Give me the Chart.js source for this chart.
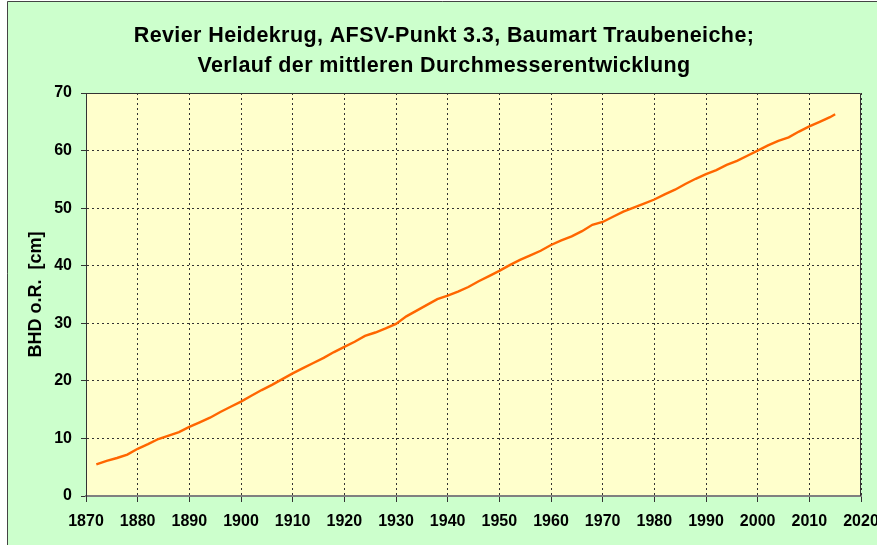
<!DOCTYPE html>
<html>
<head>
<meta charset="utf-8">
<script src="https://cdn.jsdelivr.net/npm/chart.js@4/dist/chart.umd.min.js"></script>
<style>
  html, body { margin: 0; padding: 0; background: #ffffff; }
  #wrap { width: 877px; height: 545px; }
</style>
</head>
<body>
<div id="wrap"><canvas id="chart" width="877" height="545"></canvas></div>
<script>
// Data
const titleLines = ['Revier Heidekrug, AFSV-Punkt 3.3, Baumart Traubeneiche;', 'Verlauf der mittleren Durchmesserentwicklung'];
const yTitle = 'BHD o.R.  [cm]';

const years = [1872, 1874, 1876, 1878, 1880, 1882, 1884, 1886, 1888, 1890,
    1892, 1894, 1896, 1898, 1900, 1902, 1904, 1906, 1908, 1910,
    1912, 1914, 1916, 1918, 1920, 1922, 1924, 1926, 1928, 1930,
    1932, 1934, 1936, 1938, 1940, 1942, 1944, 1946, 1948, 1950,
    1952, 1954, 1956, 1958, 1960, 1962, 1964, 1966, 1968, 1970,
    1972, 1974, 1976, 1978, 1980, 1982, 1984, 1986, 1988, 1990,
    1992, 1994, 1996, 1998, 2000, 2002, 2004, 2006, 2008, 2010,
    2012, 2014, 2015];
const bhd = [5.5, 6.1, 6.6, 7.2, 8.2, 9.0, 9.9, 10.5, 11.1, 12.0,
    12.8, 13.6, 14.6, 15.5, 16.4, 17.4, 18.4, 19.3, 20.3, 21.3,
    22.2, 23.1, 24.0, 25.0, 25.9, 26.8, 27.8, 28.4, 29.1, 29.9,
    31.2, 32.2, 33.2, 34.2, 34.8, 35.5, 36.3, 37.3, 38.2, 39.1,
    40.1, 41.0, 41.8, 42.6, 43.6, 44.4, 45.1, 46.0, 47.1, 47.6,
    48.5, 49.4, 50.1, 50.8, 51.5, 52.4, 53.2, 54.2, 55.1, 55.9,
    56.6, 57.5, 58.2, 59.1, 60.0, 60.9, 61.7, 62.3, 63.3, 64.2,
    65.0, 65.8, 66.3];

const xMin = 1870, xMax = 2020, xStep = 10;
const yMin = 0, yMax = 70, yStep = 10;

const FONT = '"Liberation Sans", Arial, sans-serif';

// Background, frame and title
const backdrop = {
    id: 'backdrop',
    beforeDraw(chart) {
        const ctx = chart.ctx;
        const a = chart.chartArea;
        ctx.save();
        ctx.fillStyle = '#ffffff';
        ctx.fillRect(0, 0, chart.width, chart.height);
        ctx.fillStyle = '#ccffcc';
        ctx.fillRect(7, 1, chart.width - 7, chart.height - 1);
        ctx.strokeStyle = '#444444';
        ctx.lineWidth = 1;
        ctx.beginPath();
        ctx.moveTo(7.5, chart.height);
        ctx.lineTo(7.5, 1.5);
        ctx.lineTo(chart.width, 1.5);
        ctx.stroke();
        ctx.fillStyle = '#ffffcc';
        ctx.fillRect(a.left, a.top, a.right - a.left, a.bottom - a.top);

        ctx.fillStyle = '#000000';
        ctx.font = 'bold 21.5px ' + FONT;
        ctx.letterSpacing = '0.4px';
        ctx.textAlign = 'center';
        ctx.textBaseline = 'alphabetic';
        ctx.fillText(titleLines[0], 444, 42);
        ctx.fillText(titleLines[1], 444, 72);
        ctx.restore();
    },
    beforeDatasetsDraw(chart) {
        const ctx = chart.ctx;
        const a = chart.chartArea;
        ctx.save();
        ctx.strokeStyle = '#333333';
        ctx.lineWidth = 1;
        ctx.beginPath();
        ctx.moveTo(a.left, a.top + 0.5);
        ctx.lineTo(a.right - 0.5, a.top + 0.5);
        ctx.lineTo(a.right - 0.5, a.bottom);
        ctx.stroke();
        ctx.restore();
    }
};

const ctx = document.getElementById('chart');
new Chart(ctx, {
    type: 'line',
    data: {
        datasets: [{
            label: 'BHD',
            data: years.map((y, i) => ({ x: y, y: bhd[i] })),
            borderColor: '#ff6600',
            borderWidth: 2.4,
            pointRadius: 0,
            tension: 0,
            fill: false
        }]
    },
    options: {
        responsive: false,
        animation: false,
        layout: { padding: { left: 0, right: 16, top: 93, bottom: 0 } },
        plugins: {
            legend: { display: false },
            title: { display: false },
            tooltip: { enabled: false }
        },
        scales: {
            x: {
                type: 'linear',
                min: xMin,
                max: xMax,
                afterFit(scale) {
                    scale.height = 49;
                    scale.paddingLeft = 0;
                    scale.paddingRight = 0;
                },
                ticks: {
                    stepSize: xStep,
                    padding: 10,
                    maxRotation: 0,
                    autoSkip: false,
                    color: '#000000',
                    font: { family: FONT, size: 16, weight: 'bold' },
                    callback: v => String(v)
                },
                grid: {
                    color: '#333333',
                    lineWidth: 1,
                    tickLength: 6,
                    tickColor: '#333333',
                    tickBorderDash: []
                },
                border: { display: true, color: '#808080', width: 2, dash: [2, 3] }
            },
            y: {
                min: yMin,
                max: yMax,
                afterFit(scale) {
                    scale.width = 86;
                    scale.paddingTop = 0;
                    scale.paddingBottom = 0;
                },
                ticks: {
                    stepSize: yStep,
                    padding: 9,
                    color: '#000000',
                    font: { family: FONT, size: 16, weight: 'bold' }
                },
                grid: {
                    color: '#333333',
                    lineWidth: 1,
                    tickLength: 5,
                    tickColor: '#333333',
                    tickBorderDash: []
                },
                border: { display: true, color: '#333333', width: 1, dash: [2, 3] },
                title: {
                    display: true,
                    text: yTitle,
                    color: '#000000',
                    font: { family: FONT, size: 18, weight: 'bold' },
                    padding: { top: 25, bottom: 0 }
                }
            }
        }
    },
    plugins: [backdrop]
});
</script>
</body>
</html>
